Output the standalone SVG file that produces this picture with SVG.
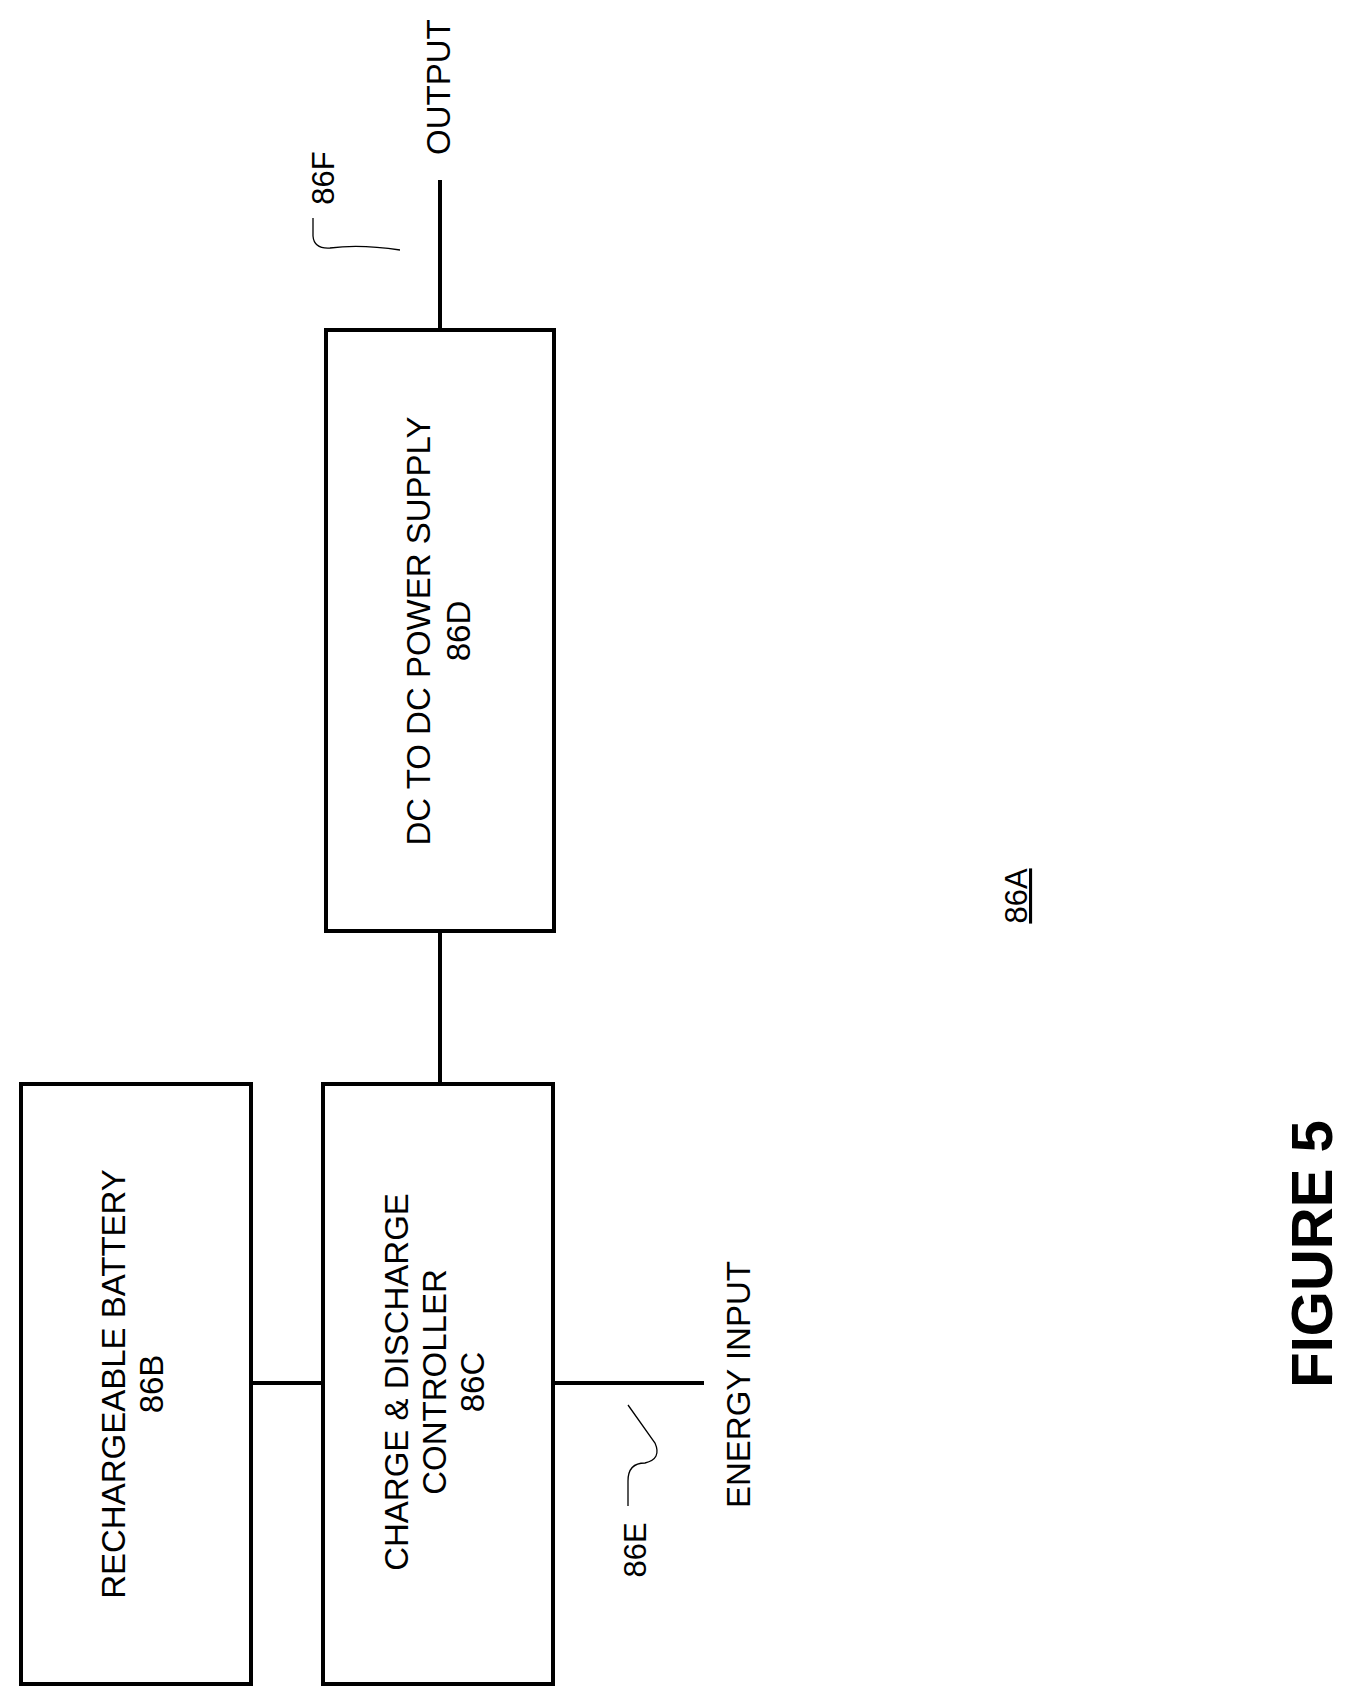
<svg xmlns="http://www.w3.org/2000/svg" width="1349" height="1701" viewBox="0 0 1349 1701">
<style>
.box{fill:#fff;stroke:#000;stroke-width:4}
.ln{stroke:#000;stroke-width:4;fill:none}
.ld{stroke:#000;stroke-width:1.3;fill:none}
text{font-family:"Liberation Sans",Arial,sans-serif;fill:#000}
.t{font-size:33px;text-anchor:middle}
.s{font-size:31px;text-anchor:middle}
</style>
<rect width="1349" height="1701" fill="#fff"/>
<g id="connectors">
<line class="ln" x1="440" y1="180" x2="440" y2="330"/>
<line class="ln" x1="440" y1="931" x2="440" y2="1084"/>
<line class="ln" x1="251" y1="1383" x2="323" y2="1383"/>
<line class="ln" x1="553" y1="1383" x2="704" y2="1383"/>
<path class="ld" d="M313 218 L313 236 Q314 249 330 248 Q360 244 400 250"/>
<path class="ld" d="M628 1506 L628 1481 Q628 1463 645 1463 Q662 1459 655 1443 L628 1405"/>
</g>
<g id="n86B">
<rect class="box" x="21" y="1084" width="230" height="600"/>
<text class="t" transform="translate(125,1384) rotate(-90)">RECHARGEABLE BATTERY<tspan x="0" dy="38">86B</tspan></text>
</g>
<g id="n86C">
<rect class="box" x="323" y="1084" width="230" height="600"/>
<text class="t" transform="translate(408,1382) rotate(-90)">CHARGE &amp; DISCHARGE<tspan x="0" dy="38">CONTROLLER</tspan><tspan x="0" dy="38">86C</tspan></text>
</g>
<g id="n86D">
<rect class="box" x="326" y="330" width="228" height="601"/>
<text class="t" transform="translate(430,631) rotate(-90)">DC TO DC POWER SUPPLY<tspan x="0" dy="40">86D</tspan></text>
</g>
<g id="labels">
<text style="font-size:33px" transform="translate(750,1508) rotate(-90)">ENERGY INPUT</text>
<text style="font-size:33px" transform="translate(450,155) rotate(-90)">OUTPUT</text>
<text class="s" transform="translate(334,178) rotate(-90)">86F</text>
<text class="s" transform="translate(646,1550) rotate(-90)">86E</text>
<text class="s" transform="translate(1027,896) rotate(-90)" text-decoration="underline">86A</text>
<text style="font-size:58px;font-weight:bold;text-anchor:middle" transform="translate(1332,1254) rotate(-90)">FIGURE 5</text>
</g>
</svg>
